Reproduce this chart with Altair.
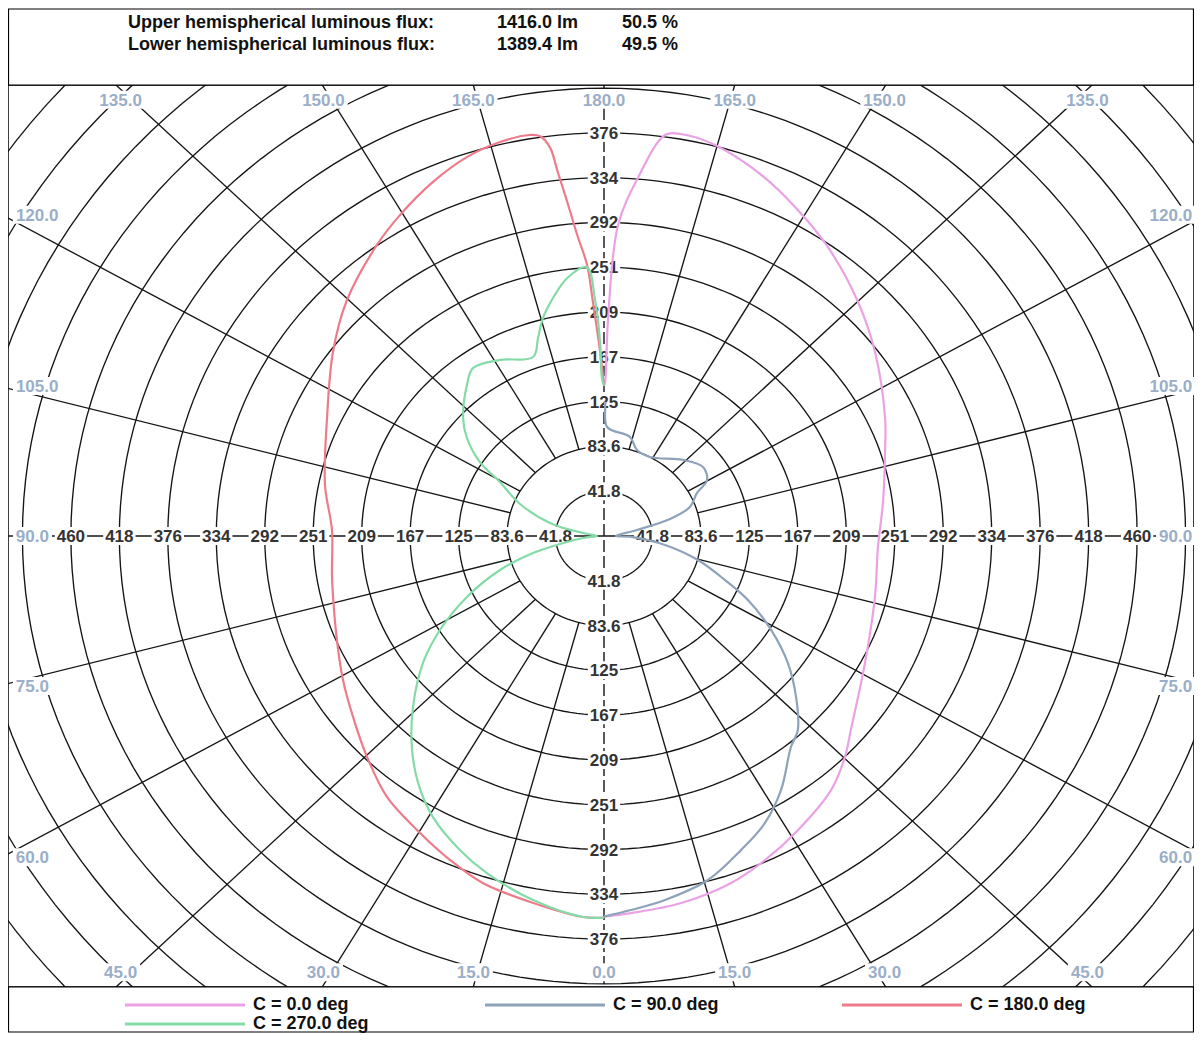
import math
import pandas as pd
import altair as alt

# ---------------- values ----------------
RING_STEP = 41.78
ring_labels = ["41.8", "83.6", "125", "167", "209", "251", "292", "334", "376", "418", "460"]
ring_count = 16
spoke_angles = [15, 30, 45, 60, 75, 105, 120, 135, 150, 165]
angle_labels = [0, 15, 30, 45, 60, 75, 90, 105, 120, 135, 150, 165, 180]

# C = 0 deg (right half)
c0_gamma = [0, 3.8, 11.0, 18.7, 24.7, 31.4, 39.6, 45.2, 49.6, 62.2, 76.3, 87.5, 97.5, 107.9, 114.4,
            126.3, 134.9, 143.5, 149.7, 157.4, 165.3, 170.0, 172.0, 175.0, 177.6, 179.0, 179.6, 180]
c0_cd = [355, 352.5, 348.8, 341.7, 332.6, 321.2, 307.3, 292.7, 279.4, 254.3, 240.4, 236.4, 242.6, 254.6, 266.1,
         289.9, 309.2, 329.4, 343.5, 361.7, 377.1, 380.8, 377.8, 335.3, 290.4, 203.4, 144, 140]

# C = 90 deg (right half)
c90_gamma = [0, 3.8, 8.8, 15.6, 22.0, 27.4, 32.8, 39.3, 42.7, 47.8, 53.2, 58.7, 64.3, 68.5, 74.5, 80.9,
             87.8, 90, 101.2, 105.6, 110.1, 116.6, 120.4, 127.0, 136.2, 151.7, 160.5, 166.4, 178.5, 179.6, 180]
c90_cd = [355, 349.7, 343.6, 333.2, 315.8, 301.5, 281.8, 254.4, 246.4, 223.5, 198.0, 168.6, 137.7, 112.1, 84.0, 53.3,
          23.3, 10, 29.0, 59.1, 78.9, 89.7, 103.0, 106.9, 98.3, 83.7, 85.1, 95.1, 101.7, 124.1, 125]

# C = 180 deg (left half)
c180_gamma = [0, 2.9, 10.1, 17.9, 23.7, 30.4, 37.5, 44.7, 52.0, 59.2, 67.2, 76.3, 81.2, 91.4, 101.2, 114.8,
              126.3, 134.6, 144.2, 149.6, 155.9, 161.5, 166.3, 170.3, 171.6, 172.7, 173.3, 174.2, 175.3,
              176.7, 177.5, 178.9, 180]
c180_cd = [356, 355.9, 347.8, 340.1, 330.1, 318.2, 307.1, 290.3, 274.5, 262.0, 249.8, 240.4, 237.3, 234.6, 245.2, 263.0,
           289.9, 311.8, 334.7, 347.3, 361.6, 372.7, 378.3, 379.5, 376.9, 365.0, 341.9, 313.2, 281.7,
           253.2, 218.5, 171.6, 140]

# C = 270 deg (left half)
c270_gamma = [0, 2.9, 10.2, 17.8, 23.0, 29.4, 34.8, 40.1, 45.9, 52.8, 58.2, 64.3, 70.5, 75.4, 77.5, 84, 90,
              98.8, 104.0, 112.3, 119.3, 122.8, 127.7, 132.2, 140.0, 144.2, 151.4, 159.9, 162.9, 165.5,
              168.8, 172.5, 176.6, 178.0, 178.9, 179.3, 180]
c270_cd = [356, 355.9, 345.1, 330.2, 318.1, 300.7, 280.7, 257.2, 229.3, 195.9, 166.4, 131.1, 95.1, 63.2, 47.7, 18, 6,
           18.3, 46, 78, 102.9, 127.2, 149.3, 164.0, 183.8, 193.1, 187.1, 177.8, 193.3, 210.1,
           226.3, 242.8, 251.3, 220.3, 182.8, 147.4, 140]

flux_labels = ["Upper hemispherical luminous flux:", "Lower hemispherical luminous flux:"]
flux_lm = ["1416.0 lm", "1389.4 lm"]
flux_pct = ["50.5 %", "49.5 %"]

series_names = ["C = 0.0 deg", "C = 90.0 deg", "C = 180.0 deg", "C = 270.0 deg"]
series_colors = ["#eaa2e5", "#8ea2ba", "#ee7b8b", "#84dba8"]
series_sides = [1, 1, -1, -1]

# ---------------- layout ----------------
FONT = "Liberation Sans"
W, H = 1186, 902
PX_X, PX_Y = 1.16, 1.072          # pixels per candela (diagram is slightly stretched)
CX, CY = 596, 451                 # centre inside the plot area
xscale = alt.Scale(domain=[-CX / PX_X, (W - CX) / PX_X], nice=False, zero=False)
yscale = alt.Scale(domain=[-(H - CY) / PX_Y, CY / PX_Y], nice=False, zero=False)


def X(f):
    return alt.X(f, type="quantitative", scale=xscale, axis=None)


def Y(f):
    return alt.Y(f, type="quantitative", scale=yscale, axis=None)


def est_width(s, size):
    w = 0.0
    for ch in s:
        if ch.isdigit():
            w += 0.556
        elif ch == ".":
            w += 0.278
        else:
            w += 0.5
    return w * size


GRID = "#151515"

# rings
ring_rows = []
for k in range(1, ring_count + 1):
    for t in range(0, 362, 2):
        ring_rows.append({"k": k, "r": k * RING_STEP, "t": t})
rings = alt.Chart(pd.DataFrame(ring_rows)).transform_calculate(
    px="datum.r*sin(datum.t*PI/180)", py="datum.r*cos(datum.t*PI/180)"
).mark_line(clip=True, color=GRID, strokeWidth=1.35).encode(
    x=X("px"), y=Y("py"), detail="k:N", order="t:Q")

# spokes
spoke_rows = []
for s in (1, -1):
    for a in spoke_angles:
        spoke_rows.append({"a": a, "s": s, "r0": 2 * RING_STEP, "r1": 1000})
spokes = alt.Chart(pd.DataFrame(spoke_rows)).transform_calculate(
    x0="datum.s*datum.r0*sin(datum.a*PI/180)", y0="-datum.r0*cos(datum.a*PI/180)",
    x1="datum.s*datum.r1*sin(datum.a*PI/180)", y1="-datum.r1*cos(datum.a*PI/180)"
).mark_rule(clip=True, color=GRID, strokeWidth=1.35).encode(
    x=X("x0"), y=Y("y0"), x2="x1", y2="y1")

# axes
hax = alt.Chart(pd.DataFrame([{"x0": -1000, "x1": 1000, "y0": 0}])).mark_rule(
    clip=True, color=GRID, strokeWidth=1.4).encode(x=X("x0"), x2="x1", y=Y("y0"))
vax = alt.Chart(pd.DataFrame([{"y0": -1000, "y1": 1000, "x0": 0}])).mark_rule(
    clip=True, color=GRID, strokeWidth=1.4, strokeDash=[12, 4]).encode(y=Y("y0"), y2="y1", x=X("x0"))

# ring labels
RFS = 17
rl_rows = []
for i, lab in enumerate(ring_labels):
    r = (i + 1) * RING_STEP
    w = est_width(lab, RFS)
    pos = [(r, 0), (-r, 0)]
    if i < 9:
        pos += [(0, r), (0, -r)]
    for (px, py) in pos:
        rl_rows.append({"lab": lab, "px": px, "py": py,
                        "bx0": px - (w / 2 + 2) / PX_X, "bx1": px + (w / 2 + 2) / PX_X,
                        "by0": py - 9 / PX_Y, "by1": py + 9 / PX_Y})
rl_df = pd.DataFrame(rl_rows)
rl_bg = alt.Chart(rl_df).mark_rect(clip=True, color="white").encode(
    x=X("bx0"), x2="bx1", y=Y("by0"), y2="by1")
rl_text = alt.Chart(rl_df).mark_text(
    clip=True, font=FONT, fontSize=RFS, fontWeight="bold", color="#333333",
    align="center", baseline="middle", dy=1).encode(x=X("px"), y=Y("py"), text="lab:N")

# angle labels on the frame
AFS = 17
XR, YR = 495.0, 407.0
al_rows = []
for a in angle_labels:
    for s in ([1] if a in (0, 180) else [1, -1]):
        dx = s * math.sin(math.radians(a))
        dy = -math.cos(math.radians(a))
        tx = XR / abs(dx) if abs(dx) > 1e-9 else float("inf")
        ty = YR / abs(dy) if abs(dy) > 1e-9 else float("inf")
        lab = f"{a:.1f}"
        w = est_width(lab, AFS)
        if ty <= tx:
            px = ty * dx + math.copysign(16 * abs(dx) / PX_X, dx if dx != 0 else 1)
            py = ty * dy
        else:
            px = s * (507 - (w / 2) / PX_X)
            py = tx * dy + math.copysign(30 * abs(dy) / PX_Y, dy if abs(dy) > 1e-9 else 1) * (abs(dy) > 1e-9)
        al_rows.append({"lab": lab, "px": px, "py": py,
                        "bx0": px - (w / 2 + 3) / PX_X, "bx1": px + (w / 2 + 3) / PX_X,
                        "by0": py - 9 / PX_Y, "by1": py + 9 / PX_Y})
al_df = pd.DataFrame(al_rows)
al_bg = alt.Chart(al_df).mark_rect(clip=True, color="white").encode(
    x=X("bx0"), x2="bx1", y=Y("by0"), y2="by1")
al_text = alt.Chart(al_df).mark_text(
    clip=True, font=FONT, fontSize=AFS, fontWeight="bold", color="#9aaec8",
    align="center", baseline="middle", dy=1).encode(x=X("px"), y=Y("py"), text="lab:N")

# curves
curve_rows = []
for name, side, gs, vs in zip(series_names, series_sides,
                              [c0_gamma, c90_gamma, c180_gamma, c270_gamma],
                              [c0_cd, c90_cd, c180_cd, c270_cd]):
    for i, (g, v) in enumerate(zip(gs, vs)):
        curve_rows.append({"series": name, "side": side, "gamma": g, "cd": v, "idx": i})
curves = alt.Chart(pd.DataFrame(curve_rows)).transform_calculate(
    px="datum.side*datum.cd*sin(datum.gamma*PI/180)", py="-datum.cd*cos(datum.gamma*PI/180)"
).mark_line(clip=True, strokeWidth=2.2, interpolate="catmull-rom").encode(
    x=X("px"), y=Y("py"),
    color=alt.Color("series:N", scale=alt.Scale(domain=series_names, range=series_colors), legend=None),
    order="idx:Q")

# header box and texts
one = pd.DataFrame([{"d": 0}])
header_box = alt.Chart(one).mark_rect(fill="white", stroke="black", strokeWidth=1.2).encode(
    x=alt.value(0.5), x2=alt.value(W - 0.5), y=alt.value(-76), y2=alt.value(0))
header_layers = []
for row, yy in zip(range(2), (-62, -40)):
    for col, xx in zip((flux_labels, flux_lm, flux_pct), (120, 489, 614)):
        header_layers.append(
            alt.Chart(pd.DataFrame([{"t": col[row]}])).mark_text(
                font=FONT, fontSize=18, fontWeight="bold", color="#111111",
                align="left", baseline="middle").encode(
                x=alt.value(xx), y=alt.value(yy), text="t:N"))

# legend box
legend_box = alt.Chart(one).mark_rect(fill="white", stroke="black", strokeWidth=1.2).encode(
    x=alt.value(0.5), x2=alt.value(W - 0.5), y=alt.value(H), y2=alt.value(H + 45))
legend_layers = []
legend_pos = [(117, 920), (477, 920), (834, 920), (117, 939)]
for name, colr, (lx, ly) in zip(series_names, series_colors, legend_pos):
    legend_layers.append(alt.Chart(one).mark_rule(color=colr, strokeWidth=3).encode(
        x=alt.value(lx), x2=alt.value(lx + 120), y=alt.value(ly)))
    legend_layers.append(alt.Chart(pd.DataFrame([{"t": name}])).mark_text(
        font=FONT, fontSize=18, fontWeight="bold", color="#111111",
        align="left", baseline="middle").encode(
        x=alt.value(lx + 128), y=alt.value(ly), text="t:N"))

chart = alt.layer(
    rings, spokes, hax, vax, rl_bg, rl_text, al_bg, al_text, curves,
    header_box, *header_layers, legend_box, *legend_layers
).properties(
    width=W, height=H,
    padding={"top": 77, "left": 0, "right": 0, "bottom": 46},
    autosize=alt.AutoSizeParams(type="none"),
    background="white",
).configure_view(stroke="black", strokeWidth=1.5)

chart.save("out.html", embed_options={"renderer": "svg", "actions": False})
